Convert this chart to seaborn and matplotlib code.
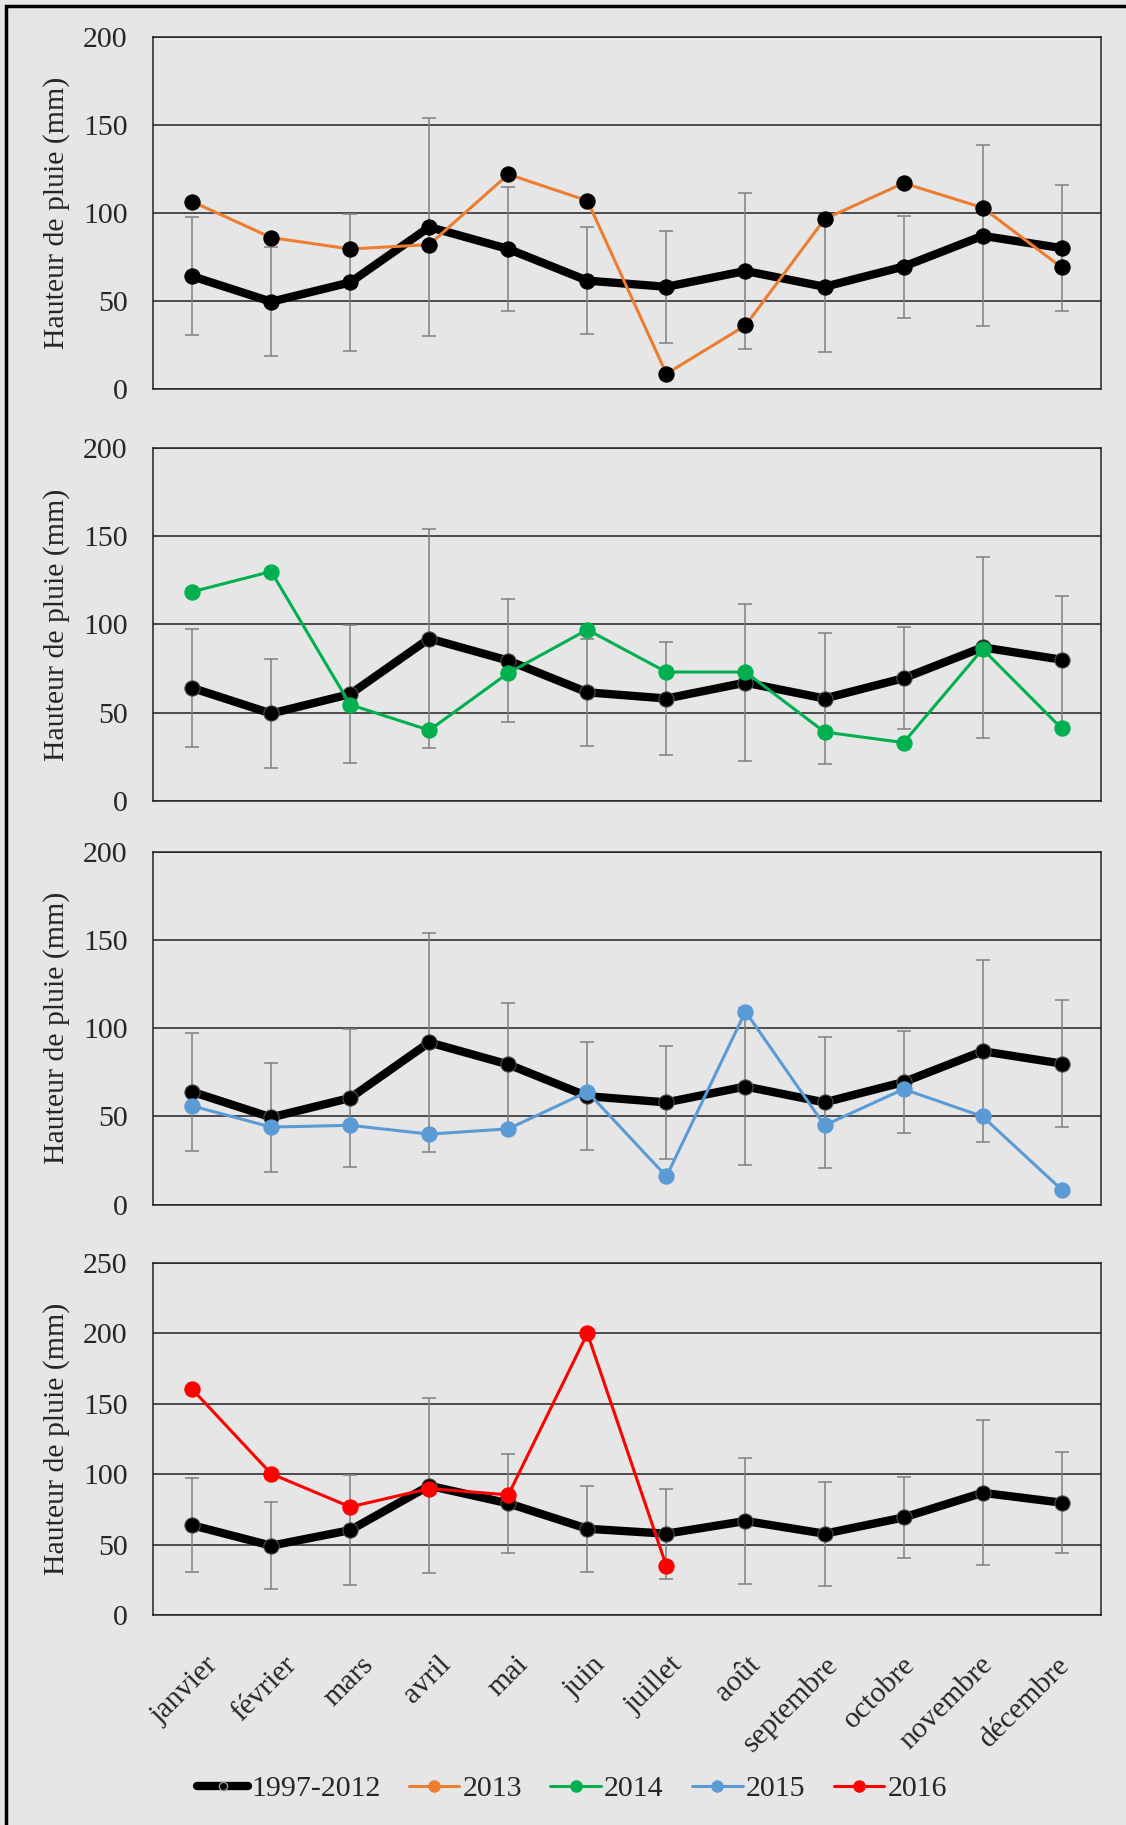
#!/usr/bin/env python3
# pluie_mensuelle.py

import numpy as np
import matplotlib.pyplot as plt
import matplotlib.transforms as mtransforms
import seaborn as sns
from matplotlib.lines import Line2D
from matplotlib.patches import Rectangle

months = ['janvier', 'février', 'mars', 'avril', 'mai', 'juin', 'juillet',
          'août', 'septembre', 'octobre', 'novembre', 'décembre']

# Reference period 1997-2012 : mean and standard deviation
mean_ref = [64, 49.5, 60.5, 92, 79.5, 61.5, 58, 67, 58, 69.5, 87, 80]
sd_ref = [33.5, 31, 39, 62, 35, 30.5, 32, 44.5, 37, 29, 51.5, 36]

rain_2013 = [106.5, 86, 79.5, 82, 122, 107, 8.5, 36, 96.5, 117, 103, 69]
rain_2014 = [118.5, 130, 54.5, 40, 72.5, 97, 73, 73, 39, 33, 86, 41]
rain_2015 = [56, 44, 45, 40, 43, 64, 16, 109.5, 45, 65.5, 50, 8.5]
rain_2016 = [160.5, 100.5, 77, 90, 85.5, 200, 35]

series_labels = ['1997-2012', '2013', '2014', '2015', '2016']
series_colors = ['black', '#ED7D31', '#00B050', '#5B9BD5', '#FF0000']

bg = '#e6e6e6'
fs = 21.5
sns.set_style('white')
plt.rcParams['font.family'] = ['Liberation Serif', 'DejaVu Serif']

fig = plt.figure(figsize=(11.26, 18.25), dpi=100, facecolor=bg)

panels = [
    (rain_2013, series_colors[1], 'black', 200, (0.787, 0.9796)),
    (rain_2014, series_colors[2], series_colors[2], 200, (0.5612, 0.7545)),
    (rain_2015, series_colors[3], series_colors[3], 200, (0.3399, 0.5332)),
    (rain_2016, series_colors[4], series_colors[4], 250, (0.1148, 0.308)),
]

for i, (vals, col, mcol, ymax, (y0, y1)) in enumerate(panels):
    ax = fig.add_axes([0.1355, y0, 0.978 - 0.1355, y1 - y0])
    ax.set_facecolor(bg)

    # mean line with +/- 1 sd error bars
    sns.lineplot(x=months, y=mean_ref, ax=ax, color='black', lw=6,
                 marker='o', markersize=11, markerfacecolor='black',
                 markeredgecolor='#555555' if i else 'black',
                 sort=False, zorder=3)
    ax.errorbar(months, mean_ref, yerr=sd_ref, fmt='none', ecolor='#7f7f7f',
                elinewidth=1.1, capsize=5, capthick=1.1, zorder=2)

    sns.lineplot(x=months[:len(vals)], y=vals, ax=ax, color=col, lw=2.2,
                 marker='o', markersize=11, markerfacecolor=mcol,
                 markeredgecolor=mcol, sort=False, zorder=4)

    ax.set_xlim(-0.5, 11.5)
    ax.set_ylim(0, ymax)
    ax.set_yticks(np.arange(0, ymax + 1, 50))
    ax.yaxis.grid(True, color='#222222', lw=1.1)
    ax.set_axisbelow(True)
    for sp in ax.spines.values():
        sp.set_visible(True)
        sp.set_color('#222222')
        sp.set_linewidth(1.1)
    ax.tick_params(axis='both', length=0, labelsize=fs, pad=18)
    ax.set_ylabel('Hauteur de pluie (mm)', fontsize=fs)
    ax.yaxis.set_label_coords(-0.087, 0.5)
    ax.set_xlabel('')
    if i < 3:
        ax.set_xticklabels([])
    else:
        ax.tick_params(axis='x', pad=26)
        for k, lab in enumerate(ax.get_xticklabels()):
            shift = mtransforms.ScaledTranslation((13.5 - 1.67 * k) / 100, 0,
                                                  fig.dpi_scale_trans)
            lab.set_rotation(45)
            lab.set_ha('right')
            lab.set_rotation_mode('anchor')
            lab.set_transform(lab.get_transform() + shift)

handles = [Line2D([], [], color='black', lw=6, marker='o', markersize=6,
                  markerfacecolor='black', markeredgecolor='#999999')]
for c in series_colors[1:]:
    handles.append(Line2D([], [], color=c, lw=2.2, marker='o', markersize=8,
                          markerfacecolor=c, markeredgecolor=c))
fig.legend(handles, series_labels, loc='center', bbox_to_anchor=(0.508, 0.0198),
           ncol=5, frameon=False, fontsize=fs, handlelength=1.7,
           handletextpad=0.1, columnspacing=0.95)

# outer frame of the original figure (cut on right and bottom)
fig.patches.append(Rectangle((0.005, -0.05), 1.2, 1.0465,
                             transform=fig.transFigure, fill=False,
                             edgecolor='black', lw=2.5))

fig.savefig('out.png', dpi=100, facecolor=bg)
